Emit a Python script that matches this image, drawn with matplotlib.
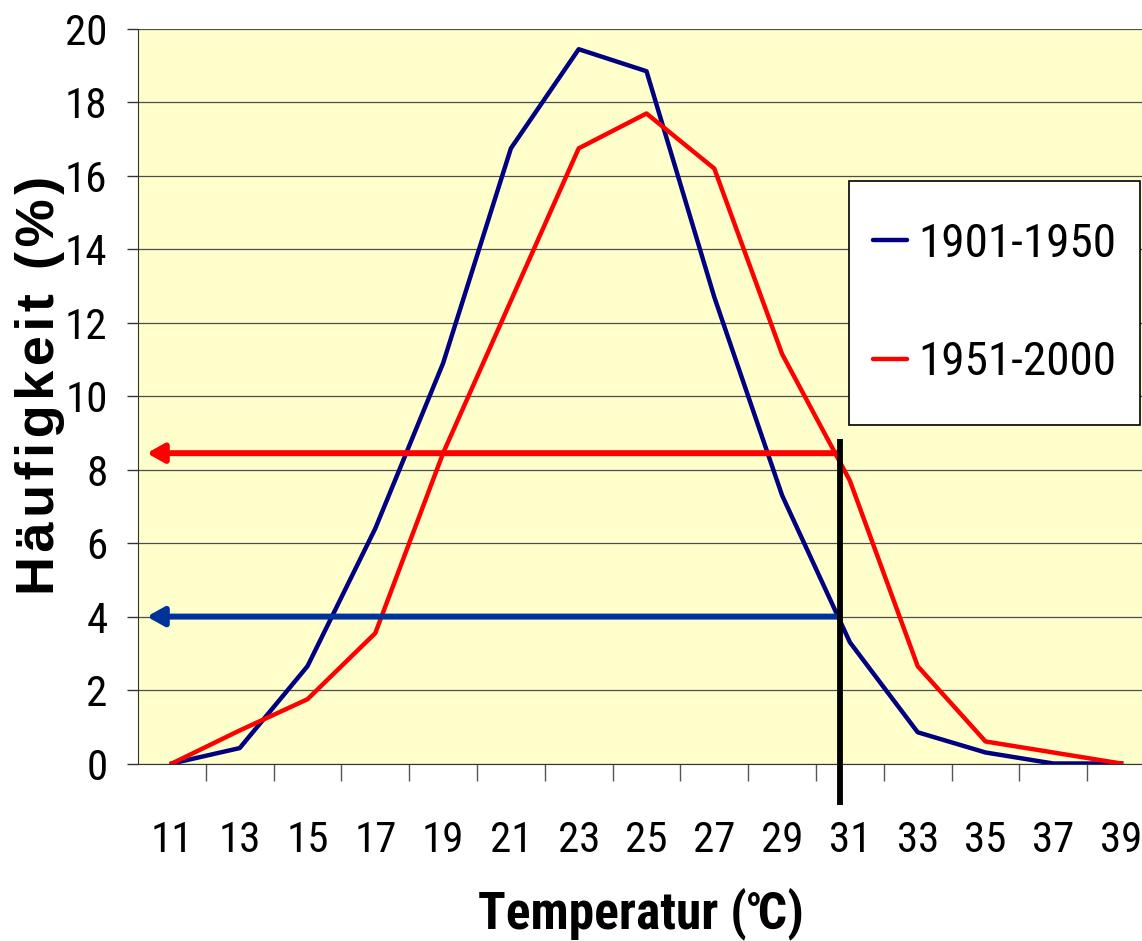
import matplotlib
matplotlib.use("Agg")
import matplotlib.pyplot as plt
from matplotlib import font_manager
from matplotlib.patches import Rectangle

# --- DATA: temperature classes and frequency per period ---
temps = [11, 13, 15, 17, 19, 21, 23, 25, 27, 29, 31, 33, 35, 37, 39]
freq_1901_1950 = [0, 0.42, 2.65, 6.4, 10.9, 16.75, 19.45, 18.85, 12.7, 7.3, 3.3, 0.85, 0.3, 0, 0]
freq_1951_2000 = [0, 0.9, 1.75, 3.55, 8.45, 12.6, 16.75, 17.7, 16.2, 11.15, 7.7, 2.65, 0.6, 0.3, 0]
series_labels = ["1901-1950", "1951-2000"]

marker_pos = 9.85
level_1901 = 4.0
level_1951 = 8.45
arrow_tip = -0.37

y_ticks = list(range(0, 21, 2))

BLUE = "#000080"
ARROW_BLUE = "#003399"
RED = "#FF0000"
BG = "#FFFFCC"

W, H = 1142, 941


def find_condensed(bold=False):
    """Look for any installed narrow/condensed sans face."""
    hits = []
    for f in font_manager.fontManager.ttflist:
        name = f.name + " " + f.fname
        narrowish = ("Narrow" in name or "Condensed" in name or "Cond" in f.fname
                     or f.stretch in ("condensed", "semi-condensed", "extra-condensed", 300, 400))
        if not narrowish or "Mono" in name or "Serif" in name:
            continue
        is_bold = f.weight in ("bold", 700) or (isinstance(f.weight, int) and f.weight >= 600)
        italic = f.style != "normal"
        if italic or is_bold != bold:
            continue
        hits.append(f)
    pref = ["Liberation Sans Narrow", "Arial Narrow", "Roboto Condensed", "DejaVu Sans",
            "Open Sans", "Noto Sans"]
    hits.sort(key=lambda f: next((i for i, p in enumerate(pref) if p in f.name), 99))
    return hits[0].fname if hits else None


narrow_file = find_condensed(False)
narrow_bold_file = find_condensed(True)


def narrow_props(size, bold=False):
    path = narrow_bold_file if bold else narrow_file
    if path:
        return font_manager.FontProperties(fname=path, size=size)
    return font_manager.FontProperties(family=["Liberation Sans", "DejaVu Sans"], size=size * 0.85,
                                       weight="bold" if bold else "normal")


fig = plt.figure(figsize=(W / 100, H / 100), dpi=100)
ax = fig.add_axes([138 / W, 177.5 / H, 1017 / W, 734.5 / H])
ax.set_facecolor(BG)

x = list(range(len(temps)))
ax.plot(x, freq_1901_1950, color=BLUE, lw=3.2, label=series_labels[0], zorder=3)
ax.plot(x, freq_1951_2000, color=RED, lw=3.2, label=series_labels[1], zorder=3)

# horizontal arrows back to the frequency axis
for level, col in [(level_1951, RED), (level_1901, ARROW_BLUE)]:
    ax.annotate("", xy=(arrow_tip, level), xytext=(marker_pos, level),
                arrowprops=dict(arrowstyle="-|>,head_length=0.5,head_width=0.28",
                                color=col, lw=4.3, shrinkA=0, shrinkB=0,
                                mutation_scale=20),
                zorder=4)

# vertical threshold line, runs below the axis
ax.plot([marker_pos, marker_pos], [-1.13, 8.84], color="black", lw=4.2,
        clip_on=False, zorder=5, solid_capstyle="butt")

ax.set_xlim(-0.5, len(temps) - 0.5)
ax.set_ylim(0, 20)

tick_fp = narrow_props(31)
ax.set_yticks(y_ticks)
ax.set_yticklabels([str(t) for t in y_ticks], fontproperties=tick_fp)
ax.tick_params(axis="y", length=8, width=1, pad=14, color="#333333")
ax.yaxis.grid(True, color="#4d4d4d", lw=0.9)
ax.set_axisbelow(True)

ax.set_xticks(x)
ax.set_xticklabels([str(t) for t in temps], fontproperties=tick_fp)
ax.set_xticks([i + 0.5 for i in x], minor=True)
ax.tick_params(axis="x", which="major", length=0, pad=41)
ax.tick_params(axis="x", which="minor", length=12, width=1, color="#555555")

for side in ["top", "right"]:
    ax.spines[side].set_visible(False)
ax.spines["left"].set_color("#333333")
ax.spines["bottom"].set_color("#333333")

# letter-spaced axis title
ylab = "\u200a".join("Häufigkeit (%)")
fig.text(40 / W, 1 - 385 / H, ylab, rotation=90, ha="center", va="center",
         fontsize=39, fontweight="bold", family=["Liberation Sans", "DejaVu Sans"])
fig.text(641 / W, 13 / H, "Temperatur (℃)", ha="center", va="baseline",
         fontproperties=narrow_props(37, bold=True))

# legend box drawn separately so its size can be set exactly
box = Rectangle((849 / W, 1 - 425 / H), 291 / W, 244 / H, transform=fig.transFigure,
                facecolor="white", edgecolor="black", lw=1.2, clip_on=False, zorder=6)
ax.add_patch(box)
leg = ax.legend(loc="center", bbox_to_anchor=(994.5 / W, 1 - 303 / H),
                bbox_transform=fig.transFigure, prop=narrow_props(34),
                frameon=False, handlelength=0.72, handletextpad=0.25,
                labelspacing=1.57, borderpad=0, borderaxespad=0)
leg.set_zorder(7)
for line in leg.get_lines():
    line.set_linewidth(3.2)
    line.set_solid_capstyle("round")

fig.savefig("out.png", dpi=100)
